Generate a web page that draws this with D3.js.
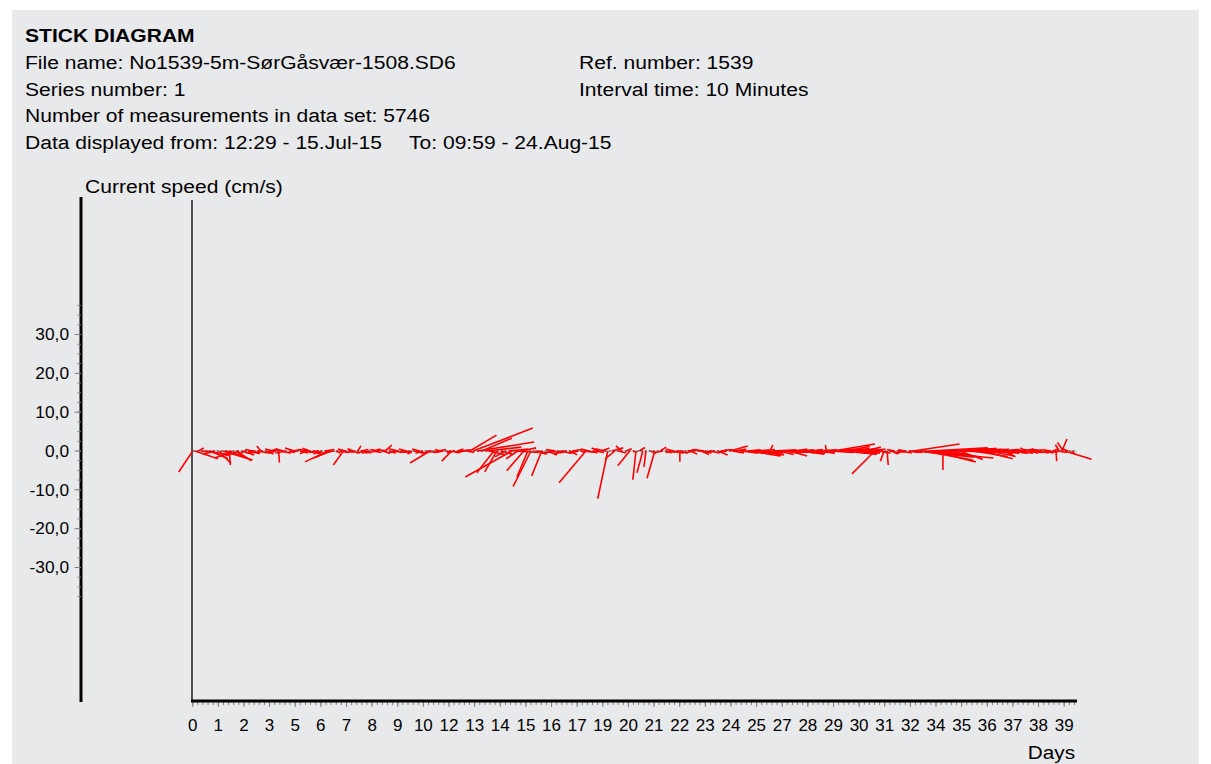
<!DOCTYPE html>
<html>
<head>
<meta charset="utf-8">
<script src="https://cdn.jsdelivr.net/npm/d3@7"></script>
<style>
  html, body { margin: 0; padding: 0; background: #ffffff; }
  svg { display: block; }
  text { font-family: "Liberation Sans", Arial, Helvetica, sans-serif; fill: #000; white-space: pre; }
</style>
</head>
<body>
<svg id="chart" width="1211" height="764"></svg>
<script>
// Header lines
const titleText = "STICK DIAGRAM";
const infoLeft = [
  "File name: No1539-5m-SørGåsvær-1508.SD6",
  "Series number: 1",
  "Number of measurements in data set: 5746",
  "Data displayed from: 12:29 - 15.Jul-15"
];
const infoRight = ["Ref. number: 1539", "Interval time: 10 Minutes"];
const periodEnd = "To: 09:59 - 24.Aug-15";
const yAxisTitle = "Current speed (cm/s)";
const xAxisTitle = "Days";

// Axis ticks
const yTickValues = [30, 20, 10, 0, -10, -20, -30];
const yTickLabels = ["30,0", "20,0", "10,0", "0,0", "-10,0", "-20,0", "-30,0"];
const xTickLabels = ["0","1","2","3","5","6","7","8","9","10","12","13","14","15","16","17","19","20",
  "21","22","23","24","25","27","28","29","30","31","32","34","35","36","37","38","39"];
const xTickStepDays = 1.1565;
const dayRange = [0, 39.9];
const speedRange = [-37.5, 37.5];

// Current vectors: time (days from start), east and north components (cm/s)
const stickDay = [
  0.00,0.10,0.25,0.40,0.60,0.80,1.00,1.20,1.35,1.50,1.65,1.80,1.95,2.10,2.25,2.40,2.60,2.85,3.07,3.30,
  3.55,3.75,3.88,4.10,4.35,4.60,4.85,5.10,5.30,5.55,5.80,6.10,6.25,6.45,6.80,7.00,7.25,7.45,7.70,7.95,
  8.20,8.45,8.67,8.90,9.15,9.40,9.65,9.90,10.10,10.40,10.70,10.95,11.20,11.45,11.69,11.95,12.20,12.35,12.50,12.65,
  12.85,13.05,13.25,13.40,13.59,13.72,13.90,14.08,14.25,14.40,14.55,14.67,14.80,14.94,15.12,15.26,15.45,15.60,15.75,16.00,
  16.25,16.50,16.75,17.00,17.25,17.50,17.74,18.00,18.25,18.45,18.60,18.73,18.90,19.05,19.20,19.36,19.55,19.72,19.86,20.00,
  20.15,20.31,20.45,20.65,20.85,21.10,21.35,21.60,21.80,21.98,22.20,22.45,22.70,22.95,23.20,23.45,23.70,23.95,24.24,24.45,
  24.70,24.90,25.14,25.35,25.60,25.85,26.04,26.30,26.55,26.75,26.95,27.20,27.45,27.70,27.95,28.20,28.45,28.60,28.89,29.10,
  29.30,29.50,29.70,29.95,30.15,30.35,30.55,30.78,31.05,31.20,31.33,31.55,31.80,32.05,32.30,32.50,32.65,32.80,32.95,33.10,
  33.25,33.40,33.55,33.70,33.85,34.00,34.20,34.40,34.60,34.80,35.00,35.20,35.40,35.60,35.80,36.00,36.20,36.40,36.60,36.80,
  37.00,37.20,37.40,37.60,37.80,38.00,38.20,38.40,38.60,38.80,38.95,39.10,39.22,39.35,39.50,39.65,
  2.50,2.72,2.95,3.18,3.42,3.65,3.98,4.22,4.48,4.72,4.97,5.20,5.42,5.68,5.95,6.35,6.60,6.90,7.12,7.35,
  7.58,7.82,8.08,8.32,8.56,8.78,9.02,9.28,9.52,9.78,10.00,10.25,10.55,10.82,11.08,11.32,11.57,11.82,12.08,12.28,
  16.12,16.38,16.62,16.88,17.12,17.38,17.62,17.88,18.12,18.35,21.22,21.48,21.70,21.90,22.08,22.32,22.58,22.82,23.08,23.32,
  23.58,23.82,24.10,24.35,24.58,24.80,25.02,25.25,25.48,25.72,25.95,26.18,26.42,26.65,26.85,27.08,27.32,27.58,27.82,28.08,
  28.32,28.75,29.00,29.20,29.40,29.60,29.82,30.05,30.25,30.45,30.65,30.90,31.12,31.45,31.68,31.92,32.18,32.40,36.10,36.30,
  36.50,36.70,36.90,37.10,37.30,37.50,37.70,37.90,38.10,38.30,38.50,38.70,39.00,39.28
];
const stickEast = [
  -3.6,5.9,1.5,4.0,6.0,4.5,-3.0,3.0,7.7,5.0,0.3,-4.5,4.0,-3.5,3.0,-2.0,2.5,-2.5,-1.0,2.0,
  1.5,-2.0,0.2,-2.0,1.5,-2.5,2.0,-1.5,-2.0,1.5,-2.0,-5.9,-4.5,1.2,-2.6,1.5,-1.5,0.8,2.0,-1.8,
  1.5,-2.5,1.8,1.5,-2.0,1.5,-2.0,-1.2,1.5,-2.0,-5.1,1.0,-1.5,1.2,-2.6,1.5,-1.5,2.0,6.9,15.4,
  14.6,7.7,9.0,4.0,-4.4,-3.1,3.0,-2.5,5.0,-12.0,6.0,-3.0,4.0,-4.4,-2.8,-4.6,3.0,2.0,-2.6,2.5,
  -2.0,1.5,-2.5,2.0,-1.5,1.0,-6.9,1.5,-1.0,2.0,-2.5,-2.6,3.0,-2.5,2.0,-1.5,1.5,-3.1,1.0,-0.8,
  1.5,-1.5,-0.5,1.5,-2.0,1.5,1.5,-1.5,2.0,0.0,-1.2,1.8,-1.0,2.0,1.2,-1.5,2.5,1.0,4.6,3.0,
  5.0,-1.5,7.7,3.0,6.0,4.0,0.8,8.0,-2.0,3.0,4.4,3.0,6.0,2.0,-1.5,5.0,3.0,-0.3,10.8,8.0,
  9.0,6.0,7.5,5.0,3.5,4.0,2.5,-5.9,2.5,-1.0,0.3,1.5,2.0,-1.5,2.5,12.0,14.9,19.0,12.8,9.0,
  15.0,11.0,16.0,10.0,0.0,13.0,8.0,12.0,6.0,10.0,7.0,9.0,5.0,8.0,4.0,6.0,-2.0,5.0,3.0,-1.5,
  4.0,-2.0,3.0,-1.5,2.0,-1.0,-2.0,2.5,-1.5,1.5,0.2,-1.0,1.3,6.9,-1.5,1.0,
  3.0,-2.0,2.5,-2.0,2.8,-2.2,2.5,-2.8,2.5,-2.0,3.0,-2.5,2.0,-2.5,2.5,-3.0,2.5,-2.0,2.5,-2.5,
  2.0,-2.5,2.5,-3.0,2.0,-2.5,2.5,-2.5,2.0,-2.5,2.5,-2.0,2.5,-2.5,2.0,-2.5,2.5,-2.0,2.5,-2.5,
  3.0,-2.5,2.5,-2.5,2.5,-2.0,2.5,-2.0,2.5,-2.0,-2.0,2.5,-2.0,2.5,-2.5,2.5,-2.0,2.5,-2.5,2.5,
  -2.5,2.8,-2.0,3.0,-2.0,4.0,3.5,5.0,4.5,5.5,3.0,6.0,4.0,5.0,3.5,5.0,4.0,5.5,3.5,5.0,
  4.0,6.0,5.0,7.0,6.5,5.0,6.0,4.5,5.0,3.0,3.5,2.5,-2.0,2.5,-2.0,3.0,-2.0,3.0,4.0,3.0,
  4.5,3.5,4.0,3.0,3.5,2.5,3.5,2.5,3.0,-2.5,3.0,-2.0,2.5,-1.5
];
const stickNorth = [
  -5.4,-2.0,0.8,-0.5,-1.0,-2.0,-0.8,-3.2,-2.3,-1.5,-3.6,-1.8,-2.5,-1.2,-1.0,-0.8,-0.7,-0.5,1.3,-0.8,
  0.6,-0.6,-3.0,0.5,-0.4,0.8,-0.5,-0.7,0.7,-0.5,-0.8,-2.8,-1.8,-0.5,-3.6,-0.3,0.6,1.3,-0.5,-0.6,
  0.5,0.4,1.5,-0.6,-0.5,-0.4,0.5,-0.8,-0.5,-0.6,-3.1,-0.3,0.4,-0.4,-2.6,0.5,-0.5,-0.4,4.1,5.9,
  2.3,3.3,1.0,-1.0,-5.6,-5.4,-0.8,-1.5,0.5,-6.7,-0.4,-2.0,0.8,-5.1,-6.7,-9.2,-0.8,-0.5,-6.4,-1.0,
  -0.6,-0.4,-0.8,-1.0,-0.5,-0.3,-8.2,-0.5,-0.4,0.8,0.6,-12.3,0.8,-2.0,-0.5,1.3,0.6,-3.8,-0.4,-7.4,
  0.9,-5.6,-4.1,-0.6,-7.0,1.0,-0.5,-0.4,-0.6,-2.8,-0.4,-0.8,0.4,-0.9,-0.6,-0.5,-1.0,0.3,1.3,0.5,
  -0.3,-0.4,-1.3,-0.6,-0.5,-1.2,1.6,-0.3,-0.8,-0.5,-1.3,0.5,-0.8,-0.5,-0.4,0.3,-0.6,1.5,1.8,0.4,
  -0.8,1.2,-0.5,0.6,-0.4,1.0,-0.6,-5.9,-0.6,-2.6,-3.6,-0.8,-0.3,-0.6,-0.4,1.8,-1.6,-1.8,-2.3,-1.0,
  0.8,-2.8,0.3,-1.5,-4.9,0.6,-1.8,0.2,-2.2,-0.5,0.6,-1.4,-0.3,-2.0,0.5,-1.3,-0.5,0.4,-1.5,0.5,
  -0.6,-0.8,0.3,0.8,-0.6,-0.4,0.5,-0.5,-0.4,0.5,-2.6,1.6,3.1,-2.1,0.6,-0.8,
  -0.6,0.4,-0.5,-0.4,0.3,0.5,-0.6,-0.5,0.4,-0.3,-0.4,0.4,-0.8,-0.3,0.4,-0.6,-0.4,0.5,-0.5,-0.4,
  0.4,-0.5,-0.4,-0.5,-0.6,0.4,-0.3,0.6,-0.5,-0.4,-0.6,0.5,-0.4,-0.6,0.4,-0.4,-0.3,-0.5,0.3,-0.4,
  -0.5,0.4,-0.6,-0.4,0.4,-0.6,-0.3,0.5,-0.4,0.8,-0.4,-0.3,0.5,-0.5,-0.3,0.4,-0.5,-0.3,0.4,-0.5,
  -0.3,0.4,-0.4,-0.5,0.3,-0.6,0.3,-0.8,0.4,-1.0,-0.4,0.3,-0.9,0.2,-0.7,-0.4,0.3,-0.6,0.4,-0.5,
  0.2,-0.4,0.5,-0.2,0.6,-0.6,0.3,-0.8,0.4,-0.3,0.5,-0.4,0.3,-0.5,0.4,-0.5,0.3,-0.4,-0.4,0.5,
  -0.6,0.3,-0.5,0.4,-0.6,0.5,-0.4,0.3,-0.5,0.4,-0.3,0.4,-0.4,2.2
];

const svg = d3.select("#chart");

// Panel background
svg.append("rect")
  .attr("x", 12).attr("y", 10)
  .attr("width", 1187).attr("height", 754)
  .attr("fill", "#e8e9eb");

// Stretch text horizontally by a factor, keeping the font height
function widen(sel, factor) {
  sel.each(function () {
    const w = this.getComputedTextLength();
    d3.select(this).attr("textLength", w * factor).attr("lengthAdjust", "spacingAndGlyphs");
  });
}

// Header
const header = svg.append("g");
header.append("text")
  .attr("x", 25).attr("y", 42)
  .attr("font-size", 18).attr("font-weight", "bold")
  .text(titleText);
header.selectAll("text.left").data(infoLeft).join("text")
  .attr("class", "left")
  .attr("x", 25).attr("y", (d, i) => 69 + i * 26.5)
  .attr("font-size", 18)
  .text(d => d);
header.selectAll("text.right").data(infoRight).join("text")
  .attr("class", "right")
  .attr("x", 579).attr("y", (d, i) => 69 + i * 26.5)
  .attr("font-size", 18)
  .text(d => d);
header.append("text")
  .attr("x", 409).attr("y", 69 + 3 * 26.5)
  .attr("font-size", 18)
  .text(periodEnd);
widen(header.selectAll("text"), 1.17);

// Scales
const x = d3.scaleLinear().domain(dayRange).range([192.7, 1077]);
const y = d3.scaleLinear().domain(speedRange).range([596.6, 305.4]);
const y0 = y(0);
const unitPx = y(0) - y(1);

// Left speed axis (thick line with ticks)
const yAxisX = 81;
svg.append("line")
  .attr("x1", yAxisX).attr("x2", yAxisX)
  .attr("y1", 197).attr("y2", 702)
  .attr("stroke", "#000").attr("stroke-width", 3);

const yMinor = d3.range(speedRange[0], speedRange[1] + 0.01, 2.5);
svg.append("g").selectAll("line").data(yMinor).join("line")
  .attr("x1", yAxisX - 3.5).attr("x2", yAxisX)
  .attr("y1", d => y(d)).attr("y2", d => y(d))
  .attr("stroke", "#808080").attr("stroke-width", 1);
svg.append("g").selectAll("line").data(yTickValues).join("line")
  .attr("x1", yAxisX - 6.5).attr("x2", yAxisX)
  .attr("y1", d => y(d)).attr("y2", d => y(d))
  .attr("stroke", "#808080").attr("stroke-width", 1);
const yLabels = svg.append("g").selectAll("text").data(yTickValues).join("text")
  .attr("x", 69).attr("y", d => y(d) + 5.7)
  .attr("text-anchor", "end")
  .attr("font-size", 16)
  .text((d, i) => yTickLabels[i]);
widen(yLabels, 1.08);

const yTitle = svg.append("text")
  .attr("x", 85).attr("y", 193)
  .attr("font-size", 18)
  .text(yAxisTitle);
widen(yTitle, 1.17);

// Inner vertical line at the time origin
svg.append("line")
  .attr("x1", 192).attr("x2", 192)
  .attr("y1", 200).attr("y2", 701)
  .attr("stroke", "#000").attr("stroke-width", 1.3);

// Time axis
const xMinor = d3.range(0, dayRange[1], xTickStepDays / 5);
svg.append("g").selectAll("line").data(xMinor).join("line")
  .attr("x1", d => x(d)).attr("x2", d => x(d))
  .attr("y1", 701).attr("y2", 705)
  .attr("stroke", "#808080").attr("stroke-width", 1);
const xMajor = xTickLabels.map((lab, i) => ({ lab, d: i * xTickStepDays }));
svg.append("g").selectAll("line").data(xMajor).join("line")
  .attr("x1", d => x(d.d)).attr("x2", d => x(d.d))
  .attr("y1", 701).attr("y2", 707)
  .attr("stroke", "#808080").attr("stroke-width", 1);
svg.append("line")
  .attr("x1", 191).attr("x2", x(dayRange[1]))
  .attr("y1", 701).attr("y2", 701)
  .attr("stroke", "#000").attr("stroke-width", 3);
svg.append("g").selectAll("text").data(xMajor).join("text")
  .attr("x", d => x(d.d)).attr("y", 731)
  .attr("text-anchor", "middle")
  .attr("font-size", 17)
  .text(d => d.lab);

const xTitle = svg.append("text")
  .attr("x", 1075).attr("y", 759)
  .attr("text-anchor", "end")
  .attr("font-size", 18)
  .text(xAxisTitle);
widen(xTitle, 1.15);

// Zero line
svg.append("line")
  .attr("x1", x(0)).attr("x2", x(dayRange[1]))
  .attr("y1", y0).attr("y2", y0)
  .attr("stroke", "#000").attr("stroke-width", 1)
  .attr("stroke-dasharray", "2,2");

// Current sticks: each drawn from its time on the zero line along the vector
const sticks = stickDay.map((d, i) => ({ d, u: stickEast[i], v: stickNorth[i] }));
svg.append("g").selectAll("line").data(sticks).join("line")
  .attr("x1", s => x(s.d)).attr("y1", y0)
  .attr("x2", s => x(s.d) + s.u * unitPx)
  .attr("y2", s => y(s.v))
  .attr("stroke", "#ff0000").attr("stroke-width", 1.6)
  .attr("stroke-linecap", "butt");
</script>
</body>
</html>
